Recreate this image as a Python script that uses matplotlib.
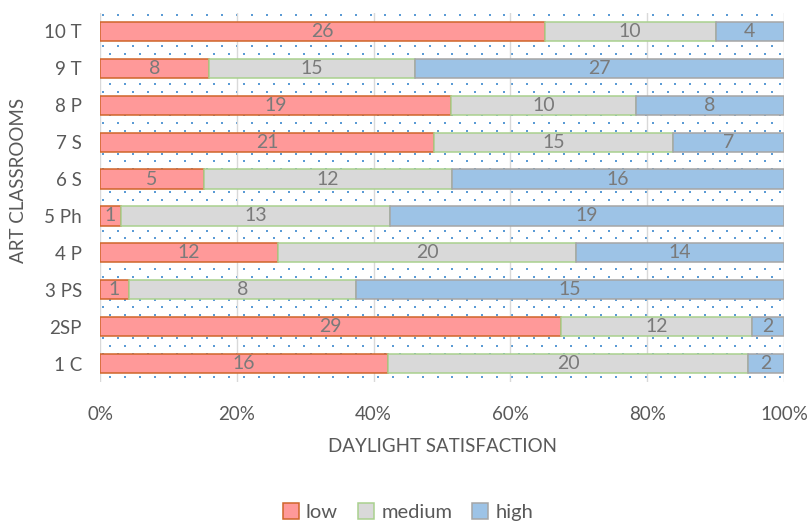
import numpy as np
import matplotlib
matplotlib.use("Agg")
import matplotlib.pyplot as plt

plt.rcParams['font.family'] = ['Lato', 'DejaVu Sans']

# data (counts per classroom, bottom to top)
rooms = ['1 C', '2SP', '3 PS', '4 P', '5 Ph', '6 S', '7 S', '8 P', '9 T', '10 T']
low = [16, 29, 1, 12, 1, 5, 21, 19, 8, 26]
medium = [20, 12, 8, 20, 13, 12, 15, 10, 15, 10]
high = [2, 2, 15, 14, 19, 16, 7, 8, 27, 4]
series_names = ['low', 'medium', 'high']
x_ticks = [0, 20, 40, 60, 80, 100]

face_cols = ['#FF9999', '#D9D9D9', '#9DC3E6']
edge_cols = ['#D0652A', '#A9D18E', '#A5A5A5']
txt_col = '#7A7A7A'

counts = np.array([low, medium, high], dtype=float)
totals = counts.sum(axis=0)
pct = counts / totals * 100

fig = plt.figure(figsize=(8.09, 5.21), dpi=100)
ax = fig.add_axes([100/809, 1 - 382/521, 684/809, 369/521])

# dotted background pattern
nx, ny = 46, 48
pts_x, pts_y = [], []
for r in range(ny):
    off = 0.5 if r % 2 else 0.0
    for c in range(nx):
        pts_x.append((c + off + 0.2) / nx)
        pts_y.append(1 - (r + 0.3) / ny)
ax.scatter(pts_x, pts_y, s=2.2, marker='s', color='#5B9BD5', linewidths=0,
           transform=ax.transAxes, zorder=0, clip_on=True)

y = np.arange(len(rooms))
left = np.zeros(len(rooms))
for i, name in enumerate(series_names):
    bars = ax.barh(y, pct[i], left=left, height=0.52, color=face_cols[i],
                   edgecolor=edge_cols[i], linewidth=1.1, label=name, zorder=3)
    ax.bar_label(bars, labels=[f'{int(v)}' for v in counts[i]], label_type='center',
                 color=txt_col, fontsize=14, zorder=4)
    left += pct[i]

ax.set_xlim(0, 100)
ax.set_ylim(-0.5, len(rooms) - 0.5)
ax.set_xticks(x_ticks)
ax.set_xticklabels([f'{v}%' for v in x_ticks])
ax.set_yticks(y)
ax.set_yticklabels(rooms)
ax.tick_params(axis='both', length=0, labelsize=13.5, labelcolor='#595959')
ax.tick_params(axis='x', pad=17)
ax.tick_params(axis='y', pad=13)
ax.grid(axis='x', color='#D9D9D9', linewidth=1, zorder=1)
ax.set_axisbelow(True)
for s in ax.spines.values():
    s.set_visible(False)

ax.set_xlabel('DAYLIGHT SATISFACTION', fontsize=13.5, color='#595959')
ax.xaxis.set_label_coords((442 - 100) / 684, (382 - 447) / 369)
ax.xaxis.label.set_va('center')
ax.set_ylabel('ART CLASSROOMS', fontsize=13.5, color='#595959')
ax.yaxis.set_label_coords((19 - 100) / 684, (382 - 180) / 369)
ax.yaxis.label.set_va('center')

fig.legend(loc='center', bbox_to_anchor=(408/809, 1 - 512/521), ncol=3, frameon=False,
           fontsize=14.5, labelcolor='#595959', handlelength=0.8, handleheight=0.8,
           handletextpad=0.35, columnspacing=1.0, borderpad=0)

fig.savefig('out.png', dpi=100)
